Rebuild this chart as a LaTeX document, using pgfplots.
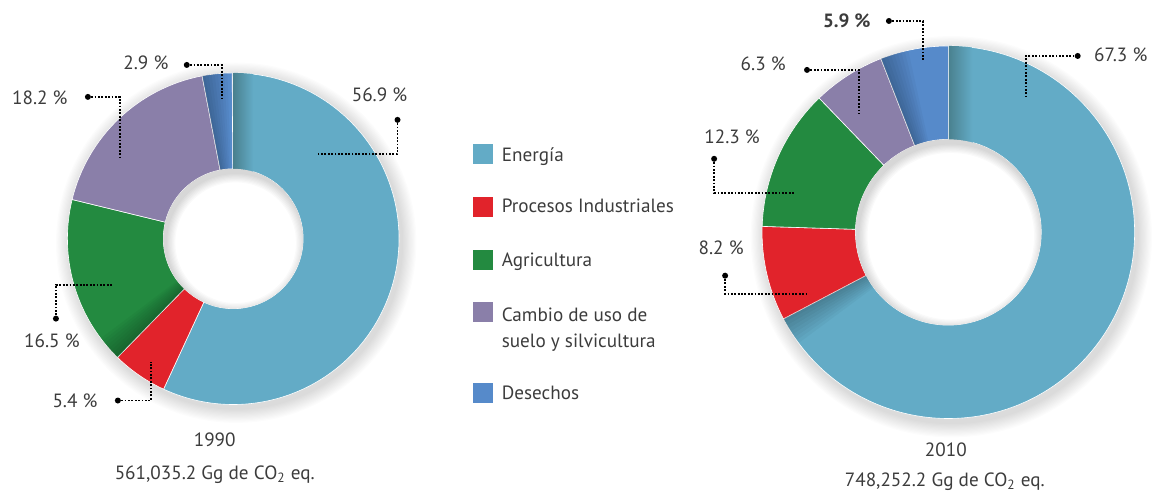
\documentclass[border=0pt]{standalone}
\usepackage{pgfplots}
\pgfplotsset{compat=1.18}
\usepackage{pgfplotstable}
\usepackage{fontspec}
\setmainfont{PT Sans}

\definecolor{energia}{HTML}{63ABC6}
\definecolor{energiadark}{HTML}{4A818F}
\definecolor{procesos}{HTML}{E1232B}
\definecolor{agricultura}{HTML}{238A40}
\definecolor{cambio}{HTML}{8A7FA9}
\definecolor{desechos}{HTML}{568ACA}
\definecolor{txt}{HTML}{3C3C3C}

% emisiones por sector (%)
\pgfplotstableread{
val col
56.9 energia
5.4 procesos
16.5 agricultura
18.2 cambio
2.9 desechos
}\datanoventa

\pgfplotstableread{
val col
67.3 energia
8.2 procesos
12.3 agricultura
6.3 cambio
5.9 desechos
}\datadosmil

% #1 table, #2 cx, #3 cy (axis units), #4 outer radius, #5 inner radius (pt)
\newcommand{\donut}[5]{%
  \def\dcum{0}%
  \pgfplotsforeachungrouped \i in {0,...,4}{%
    \pgfplotstablegetelem{\i}{val}\of{#1}\let\dval\pgfplotsretval
    \pgfplotstablegetelem{\i}{col}\of{#1}\let\dcol\pgfplotsretval
    \pgfmathsetmacro\dA{90-3.6*\dcum}%
    \pgfmathsetmacro\dB{90-3.6*(\dcum+\dval)}%
    \edef\cmd{\noexpand\fill[\dcol, draw=white, line width=0.3pt, shift={(axis cs:#2,#3)}]
      (\dA:#4pt) arc[start angle=\dA, end angle=\dB, radius=#4pt] --
      (\dB:#5pt) arc[start angle=\dB, end angle=\dA, radius=#5pt] -- cycle;}%
    \cmd
    \pgfmathsetmacro\dcum{\dcum+\dval}%
  }%
}

% sombra en abanico junto a un borde: cx cy R r angulo sentido
\newcommand{\wedgeshadow}[6]{%
  \pgfplotsinvokeforeach{1,...,8}{%
    \fill[black, opacity=0.03, shift={(axis cs:#1,#2)}] (#5:#4pt) -- (#5:#3pt)
      arc[start angle=#5, end angle={#5+(#6)*##1*1.1}, radius=#3pt] -- ({#5+(#6)*##1*1.1}:#4pt)
      arc[start angle={#5+(#6)*##1*1.1}, end angle=#5, radius=#4pt] -- cycle;
  }%
}

\tikzset{
  lab/.style={font=\fontsize{9.6}{11}\selectfont, text=txt, inner sep=0pt},
  lead/.style={line width=0.9pt, dash pattern=on 0.9pt off 0.8pt, black},
}

\begin{document}
\begin{tikzpicture}
\begin{axis}[
    hide axis,
    x=0.5pt, y=0.5pt,
    xmin=0, xmax=1152, ymin=0, ymax=495,
    y dir=reverse,
    clip=false,
]
\path (rel axis cs:0,0) rectangle (rel axis cs:1,1);

% sombras exteriores
\pgfplotsinvokeforeach{1,...,12}{
  \fill[black, opacity=0.012] (axis cs:236.5,243) circle[radius={83pt+#1*0.6pt}];
  \fill[black, opacity=0.012] (axis cs:952.5,237) circle[radius={93.25pt+#1*0.6pt}];
}

% 1990
\donut{\datanoventa}{233.5}{239}{83}{35}
\begin{scope}[shift={(axis cs:233.5,239)}]
  \clip (0,0) circle[radius=83pt];
  \shade[left color=energiadark, right color=energia] (0.2pt,33pt) rectangle (10pt,84pt);
\end{scope}
\wedgeshadow{233.5}{239}{83}{35}{-134.28}{-1}
\wedgeshadow{233.5}{239}{83}{35}{100.8}{-1}
\fill[white] (axis cs:233.5,239) circle[radius=35pt];
\begin{scope}
  \clip (axis cs:233.5,239) circle[radius=35pt];
  \pgfplotsinvokeforeach{1,...,8}{
    \fill[black, opacity=0.02, even odd rule] (axis cs:233.5,239) circle[radius=60pt]
      (axis cs:236,243) circle[radius={35pt-#1*0.6pt}];
  }
\end{scope}

% 2010
\donut{\datadosmil}{949.5}{232.5}{93.25}{46.5}
\begin{scope}[shift={(axis cs:949.5,232.5)}]
  \clip (0,0) circle[radius=93.25pt];
  \shade[left color=energiadark, right color=energia] (0.2pt,44pt) rectangle (12pt,94pt);
\end{scope}
\wedgeshadow{949.5}{232.5}{93.25}{46.5}{-152.28}{1}
\wedgeshadow{949.5}{232.5}{93.25}{46.5}{111.24}{-1}
\fill[white] (axis cs:949.5,232.5) circle[radius=46.5pt];
\begin{scope}
  \clip (axis cs:949.5,232.5) circle[radius=46.5pt];
  \pgfplotsinvokeforeach{1,...,8}{
    \fill[black, opacity=0.02, even odd rule] (axis cs:949.5,232.5) circle[radius=80pt]
      (axis cs:952,236.5) circle[radius={46.5pt-#1*0.6pt}];
  }
\end{scope}

% etiquetas 1990
\draw[lead] (axis cs:187,65) -- (axis cs:222,65) -- (axis cs:222,99);
\fill (axis cs:187,65) circle[radius=1.5pt];
\node[lab, anchor=base east] at (axis cs:169,70) {2.9 \%};

\draw[lead] (axis cs:398,120) -- (axis cs:398,154) -- (axis cs:318,154);
\fill (axis cs:398,120) circle[radius=1.5pt];
\node[lab, anchor=base] at (axis cs:380,102) {56.9 \%};

\draw[lead] (axis cs:88,97) -- (axis cs:120,97) -- (axis cs:120,159);
\fill (axis cs:88,97) circle[radius=1.5pt];
\node[lab, anchor=base east] at (axis cs:68,105) {18.2 \%};

\draw[lead] (axis cs:56,319) -- (axis cs:56,285) -- (axis cs:113,285);
\fill (axis cs:56,319) circle[radius=1.5pt];
\node[lab, anchor=base] at (axis cs:52,348) {16.5 \%};

\draw[lead] (axis cs:118,401) -- (axis cs:151,401) -- (axis cs:151,362);
\fill (axis cs:118,401) circle[radius=1.5pt];
\node[lab, anchor=base east] at (axis cs:98,408) {5.4 \%};

% etiquetas 2010
\draw[lead] (axis cs:890,21) -- (axis cs:924,21) -- (axis cs:924,61);
\fill (axis cs:890,21) circle[radius=1.5pt];
\node[lab, anchor=base east, font=\fontsize{9.6}{11}\selectfont\bfseries] at (axis cs:872,28) {5.9 \%};

\draw[lead] (axis cs:1079,56) -- (axis cs:1027,56) -- (axis cs:1027,96);
\fill (axis cs:1079,56) circle[radius=1.5pt];
\node[lab, anchor=base west] at (axis cs:1095,62) {67.3 \%};

\draw[lead] (axis cs:808,70) -- (axis cs:860,70) -- (axis cs:860,114);
\fill (axis cs:808,70) circle[radius=1.5pt];
\node[lab, anchor=base east] at (axis cs:787,71) {6.3 \%};

\draw[lead] (axis cs:715,159) -- (axis cs:715,193) -- (axis cs:796,193);
\fill (axis cs:715,159) circle[radius=1.5pt];
\node[lab, anchor=base] at (axis cs:733,144) {12.3 \%};

\draw[lead] (axis cs:726,276) -- (axis cs:726,294) -- (axis cs:807,294);
\fill (axis cs:726,276) circle[radius=1.5pt];
\node[lab, anchor=base] at (axis cs:722,255) {8.2 \%};

% leyenda
\fill[energia] (axis cs:474,144) rectangle (axis cs:494,164);
\node[lab, anchor=base west] at (axis cs:502,162) {Energía};
\fill[procesos] (axis cs:474,197) rectangle (axis cs:494,217);
\node[lab, anchor=base west] at (axis cs:502,213) {Procesos Industriales};
\fill[agricultura] (axis cs:474,250) rectangle (axis cs:494,270);
\node[lab, anchor=base west] at (axis cs:502,267) {Agricultura};
\fill[cambio] (axis cs:474,302) rectangle (axis cs:494,322);
\node[lab, anchor=base west] at (axis cs:502,322) {Cambio de uso de};
\node[lab, anchor=base west] at (axis cs:502,348) {suelo y silvicultura};
\fill[desechos] (axis cs:474,383) rectangle (axis cs:494,403);
\node[lab, anchor=base west] at (axis cs:502,400) {Desechos};

% totales
\node[lab, anchor=base] at (axis cs:215,447) {1990};
\node[lab, anchor=base] at (axis cs:215,480) {561,035.2 Gg de CO\textsubscript{2} eq.};
\node[lab, anchor=base] at (axis cs:947,457) {2010};
\node[lab, anchor=base] at (axis cs:946,487) {748,252.2 Gg de CO\textsubscript{2} eq.};
\end{axis}
\end{tikzpicture}
\end{document}
